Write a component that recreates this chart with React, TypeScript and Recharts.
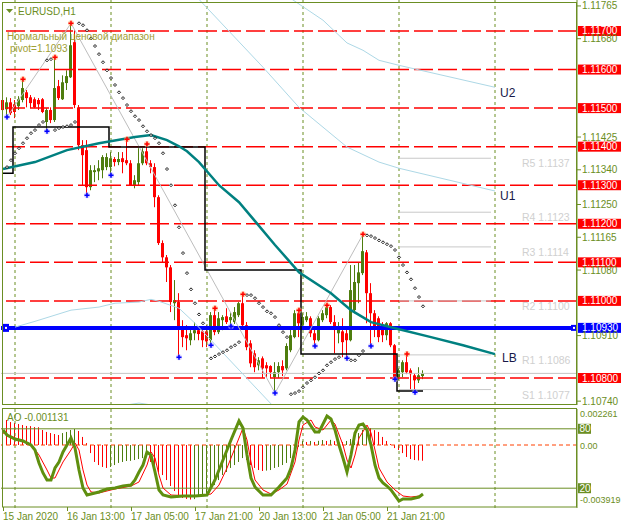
import React from "react";
import { ComposedChart, Bar, Line, XAxis, YAxis, ReferenceLine } from "recharts";

const FONT = "'Liberation Sans', Arial, sans-serif";
const OLIVE = "#6b8e23";
const BULL = "#4e7d0e";
const BEAR = "#ff0000";
const SLOTS = 144;
const PRICE_MIN = 1.1073;
const PRICE_MAX = 1.117804;
const AO_MIN = -0.00453;
const AO_MAX = 0.00259;

// H1 candles, 15 Jan 21:00 .. 22 Jan 06:00
const opens = [1.11521,1.11497,1.11515,1.1151,1.11505,1.11521,1.11541,1.11528,1.11523,1.11521,1.11523,1.11464,1.11495,1.11469,1.11557,1.11523,1.11565,1.1158,1.11671,1.11502,1.11404,1.11391,1.11295,1.11334,1.11336,1.11339,1.11347,1.11347,1.11368,1.1136,1.1137,1.11365,1.11357,1.113,1.11308,1.11357,1.11388,1.11357,1.11347,1.11269,1.1115,1.11113,1.11087,1.10994,1.10997,1.10929,1.10911,1.10898,1.10916,1.10924,1.10921,1.10921,1.10898,1.10963,1.10919,1.1095,1.1096,1.1095,1.10945,1.10963,1.10994,1.10937,1.1089,1.10864,1.10833,1.10851,1.10833,1.10831,1.10802,1.10815,1.10831,1.10825,1.10872,1.10906,1.10968,1.10937,1.1095,1.10955,1.10916,1.10898,1.1095,1.10963,1.10984,1.10945,1.10916,1.10921,1.10916,1.10898,1.10976,1.11046,1.11072,1.11126,1.1102,1.10968,1.10955,1.10932,1.10911,1.10942,1.10885,1.10802,1.10815,1.10841,1.1082,1.10807,1.10794,1.10805];
const highs = [1.11534,1.11528,1.11526,1.11521,1.11531,1.11575,1.11547,1.11534,1.11528,1.11526,1.11526,1.115,1.11502,1.11632,1.11573,1.11585,1.11598,1.1172,1.11702,1.11508,1.11417,1.11417,1.11352,1.11352,1.11365,1.11378,1.11383,1.11386,1.11373,1.11386,1.11386,1.11419,1.11365,1.11326,1.11396,1.11396,1.11407,1.11365,1.11357,1.11274,1.11157,1.11119,1.11093,1.11054,1.1102,1.1095,1.10937,1.10929,1.10945,1.10934,1.10934,1.10937,1.10971,1.10981,1.10971,1.10963,1.10981,1.10971,1.10984,1.10997,1.11017,1.10945,1.10898,1.10872,1.10854,1.10856,1.10841,1.10833,1.10841,1.10841,1.10846,1.1089,1.10929,1.10976,1.10976,1.10968,1.10971,1.1096,1.10929,1.1096,1.10976,1.10989,1.10989,1.10963,1.10945,1.10955,1.10932,1.11093,1.11093,1.111,1.11173,1.11132,1.11046,1.10976,1.1096,1.10945,1.10945,1.10945,1.10888,1.10825,1.10846,1.10862,1.10825,1.10812,1.10828,1.1082];
const lows = [1.11487,1.11477,1.11482,1.11474,1.11495,1.11515,1.11502,1.115,1.115,1.11495,1.11487,1.1144,1.11461,1.11464,1.11521,1.11521,1.11547,1.11578,1.115,1.11391,1.113,1.11274,1.11287,1.11308,1.11313,1.11318,1.11339,1.11326,1.11349,1.11352,1.11331,1.11352,1.11298,1.11292,1.113,1.11352,1.11352,1.11331,1.11243,1.11145,1.111,1.11049,1.10971,1.1095,1.10854,1.1088,1.10872,1.10885,1.10898,1.10898,1.1088,1.1088,1.10885,1.10911,1.10914,1.10924,1.1094,1.10934,1.1094,1.10958,1.10932,1.10872,1.10828,1.10815,1.1082,1.108,1.108,1.108,1.10761,1.108,1.10805,1.1082,1.10867,1.10903,1.10906,1.10929,1.10945,1.10906,1.10883,1.10895,1.10945,1.10955,1.1094,1.10864,1.1089,1.10854,1.10851,1.10895,1.10968,1.10994,1.11067,1.10942,1.10883,1.10906,1.10893,1.10893,1.10898,1.1088,1.10797,1.10794,1.10802,1.1081,1.10768,1.10763,1.10787,1.10797];
const closes = [1.11495,1.11515,1.11487,1.1149,1.11523,1.11552,1.11526,1.11513,1.11502,1.1151,1.1149,1.11495,1.11469,1.11552,1.11526,1.11567,1.11583,1.11663,1.11508,1.11404,1.11378,1.11295,1.11339,1.11339,1.11344,1.11373,1.11373,1.1137,1.1136,1.11368,1.1136,1.11357,1.113,1.11313,1.11357,1.11388,1.11357,1.11347,1.11269,1.1115,1.11113,1.11087,1.10997,1.11002,1.10929,1.10906,1.10903,1.10916,1.10924,1.10914,1.10898,1.10895,1.10963,1.10919,1.10955,1.10958,1.10945,1.10958,1.10971,1.10994,1.10937,1.1088,1.10838,1.10828,1.10846,1.10825,1.10825,1.10815,1.10815,1.10831,1.1082,1.10883,1.10911,1.10968,1.10942,1.10958,1.1096,1.10916,1.10898,1.10955,1.10968,1.10984,1.10945,1.10929,1.10929,1.10893,1.10898,1.11028,1.11049,1.11074,1.11129,1.1102,1.10968,1.10932,1.10906,1.10911,1.10942,1.10885,1.10802,1.1082,1.10841,1.10815,1.1081,1.10794,1.10807,1.10812];

// parabolic SAR (null = no dot)
const sar = [null,1.11347,1.11365,1.11383,1.11396,1.11409,1.11422,1.11435,1.11443,1.11456,1.11464,1.11624,1.11627,1.11443,1.11448,1.11451,1.11453,1.11456,1.11464,1.1172,1.11715,1.11702,1.11681,1.11661,1.1164,1.11619,1.11598,1.11578,1.1156,1.11541,1.11526,1.11508,1.11492,1.11479,1.11469,1.11453,1.1144,1.1143,1.11422,1.11409,1.11383,1.11342,1.113,1.11248,1.11191,1.11124,1.11072,1.1103,1.10994,1.10965,1.10942,null,1.10851,1.10856,1.10862,1.10867,1.10872,1.1088,1.10885,1.10893,null,1.11015,1.11015,1.11007,1.10994,1.10984,1.10973,1.10968,1.10958,1.10937,1.10919,1.10906,1.10758,1.10761,1.10766,1.10776,1.10787,1.10794,1.10802,1.10812,1.1082,1.10833,1.10841,1.10849,1.10854,null,null,1.10846,1.10846,1.10859,1.1087,1.1117,1.11168,1.11163,1.11157,1.11152,1.11147,1.11142,1.11132,1.11113,1.11093,1.11074,1.11056,1.11033,1.1101,1.10986];

const fracUpIdx = [5, 13, 17, 31, 36, 53, 60, 74, 81, 90, 101];
const fracDnIdx = [1, 11, 21, 27, 44, 52, 57, 68, 78, 86, 92, 98, 103];

const tealIdx = [0, 8, 16, 24, 33, 37, 41, 44, 46, 49, 54, 59, 63, 68, 72, 74, 82, 87, 92, 98, 107, 115, 123];
const tealVal = [1.11342,1.1136,1.11391,1.11409,1.11425,1.1143,1.11417,1.11401,1.11388,1.1136,1.113,1.11256,1.11207,1.11145,1.11098,1.11074,1.1102,1.10976,1.10945,1.10929,1.10906,1.10885,1.10862];

const u1Idx = [48, 65, 74, 86, 94, 99, 123];
const u1Val = [1.11793, 1.11606, 1.11502, 1.11399, 1.1136, 1.11344, 1.11285];
const u2Idx = [70, 80, 86, 90, 94, 99, 123];
const u2Val = [1.11798, 1.11728, 1.11669, 1.1165, 1.11624, 1.11611, 1.11554];
const lowIdx = [3, 8, 17, 24, 28, 34, 37, 39, 44, 48, 52, 68];
const lowVal = [1.10932,1.10947,1.10976,1.10984,1.10994,1.10997,1.11004,1.10999,1.10981,1.10942,1.10898,1.10722];
const arcIdx = [27, 34, 41];
const arcVal = [1.10724, 1.10735, 1.10724];

const zzIdx = [1, 17, 68, 90];
const zzVal = [1.11477, 1.1172, 1.10761, 1.11173];

const stepIdx = [0, 2, 3, 26, 27, 50, 51, 74, 75, 98, 99, 105];
const stepVal = [1.11331,1.11331,1.11451,1.11451,1.11399,1.11399,1.1108,1.1108,1.10862,1.10862,1.10766,1.10766];

const redLevels = [1.117, 1.116, 1.115, 1.114, 1.113, 1.112, 1.111, 1.11, 1.108];
const pivot = 1.1093;
const bid = 1.10812;
const pivotNames = ["R5", "R4", "R3", "R2", "R1", "S1"];
const pivotLevels = [1.1137, 1.1123, 1.1114, 1.11, 1.1086, 1.1077];
const priceTicks = [1.11765, 1.1168, 1.11425, 1.1134, 1.1125, 1.11165, 1.1108, 1.1091, 1.1074];
const separators = [3, 27, 51, 75, 99, 123];

const timeIdx = [0, 16, 32, 48, 64, 80, 96];
const timeLabels = ["15 Jan 2020", "16 Jan 13:00", "17 Jan 05:00", "17 Jan 21:00", "20 Jan 13:00", "21 Jan 05:00", "21 Jan 21:00"];

// Awesome Oscillator
const ao = [0.00226,0.0018,0.00165,0.00158,0.00151,0.00144,0.00137,0.00136,0.00129,0.00128,0.00108,0.00094,0.00086,0.00079,0.00072,0.00086,0.00094,0.00108,0.00115,0.00101,0.00058,0.00014,-0.00058,-0.00122,-0.00144,-0.00158,-0.00165,-0.00158,-0.00144,-0.00129,-0.00122,-0.00115,-0.00114,-0.00108,-0.00101,-0.00094,-0.00086,-0.00122,-0.00144,-0.00194,-0.00216,-0.00252,-0.00295,-0.00331,-0.0036,-0.00381,-0.00388,-0.00392,-0.00389,-0.00374,-0.0036,-0.00345,-0.00324,-0.00288,-0.00252,-0.00216,-0.00194,-0.00165,-0.00144,-0.00122,-0.00094,-0.00108,-0.00144,-0.00165,-0.0018,-0.00187,-0.00184,-0.0018,-0.00165,-0.00158,-0.00144,-0.00129,-0.00094,-0.0005,-0.00014,0.00029,0.00022,0.00029,0.00022,0.0003,0.00036,0.00029,0.00037,0.00028,0.00032,0.00021,0.00029,0.00043,0.00058,0.00086,0.00108,0.00129,0.00122,0.00107,0.00094,0.00058,0.00029,0.00007,-0.00022,-0.00036,-0.00058,-0.00086,-0.00101,-0.00108,-0.00111,-0.00113];

// stochastic %K / %D
const kIdx = [0,1,3,5,7,8,9,10,11,12,13,14,15,16,17,18,19,20,21,22,24,26,28,30,32,33,34,35,36,37,38,39,40,42,45,48,51,53,55,57,59,60,61,62,63,65,67,69,71,72,73,74,75,76,78,79,80,81,82,83,84,85,86,87,88,89,90,91,92,93,94,95,96,97,99,100,102,104,105];
const kVal = [78.8,73.7,69.7,67.7,63.6,58.6,45.5,35.4,28.3,28.3,40.4,46.5,56.6,63.6,70.7,60.6,38.4,20.2,13.1,14.1,16.2,19.2,20.2,22.2,23.2,28.3,36.4,43.4,56.6,53.5,36.4,18.2,13.1,11.1,12.1,12.1,13.1,28.3,48.5,68.7,87.9,80.8,53.5,30.3,21.2,13.1,13.1,21.2,30.3,40.4,58.6,86.9,91.9,88.9,76.8,76.8,84.8,92.9,89.9,78.8,63.6,50.5,36.4,53.5,75.8,83.8,84.8,78.8,63.6,43.4,30.3,25.3,22.2,18.2,7.1,9.1,9.1,11.1,14.1];
const dIdx = [0,2,4,7,9,11,12,13,14,15,17,18,19,20,21,22,24,28,32,34,36,37,38,39,40,42,48,52,54,56,58,60,61,62,63,65,67,69,71,73,74,75,77,78,80,82,83,85,86,87,88,89,91,92,93,94,96,98,100,102,104,105];
const dVal = [75.8,72.7,68.7,64.6,53.5,38.4,30.3,30.3,38.4,46.5,58.6,65.7,58.6,38.4,23.2,16.2,15.2,19.2,22.2,26.3,43.4,56.6,50.5,33.3,20.2,13.1,12.1,14.1,23.2,40.4,60.6,80.8,68.7,46.5,28.3,18.2,14.1,18.2,24.2,46.5,68.7,83.8,88.9,81.8,78.8,88.9,84.8,63.6,48.5,40.4,53.5,70.7,83.8,75.8,58.6,40.4,26.3,18.2,12.1,11.1,12.1,13.1];

const rows: any[] = [];
for (let i = 0; i < SLOTS; i++) {
  const r: any = { i };
  if (i < opens.length) {
    r.o = opens[i];
    r.h = highs[i];
    r.l = lows[i];
    r.c = closes[i];
    r.range = [lows[i], highs[i]];
    r.sar = sar[i];
    r.ao = ao[i];
    r.aoCol = i > 0 && ao[i] > ao[i - 1] ? BULL : BEAR;
  }
  rows.push(r);
}
const put = (key: string, idx: number[], vals: number[]) =>
  idx.forEach((ix, k) => {
    rows[ix][key] = vals[k];
  });
put("teal", tealIdx, tealVal);
put("u1", u1Idx, u1Val);
put("u2", u2Idx, u2Val);
put("lowch", lowIdx, lowVal);
put("arc", arcIdx, arcVal);
put("zz", zzIdx, zzVal);
put("blk", stepIdx, stepVal);
put("sk", kIdx, kVal);
put("sd", dIdx, dVal);
fracUpIdx.forEach((ix) => (rows[ix].fu = highs[ix]));
fracDnIdx.forEach((ix) => (rows[ix].fd = lows[ix]));

const Candle = (p: any) => {
  const { x, y, width, height, payload } = p;
  if (!payload || payload.o == null) return <g />;
  const { o, h, l, c } = payload;
  const top = Math.min(y, y + height);
  const bot = Math.max(y, y + height);
  const span = h - l || 1e-9;
  const py = (v: number) => top + ((bot - top) * (h - v)) / span;
  const cx = Math.round(x + width / 2);
  const col = c >= o ? BULL : BEAR;
  const b1 = py(Math.max(o, c));
  const b2 = py(Math.min(o, c));
  return (
    <g>
      <line x1={cx - 0.5} x2={cx - 0.5} y1={top} y2={bot} stroke={col} strokeWidth={1} />
      <rect x={cx - 2} y={b1} width={3} height={Math.max(1, b2 - b1)} fill={col} />
    </g>
  );
};

const AoBar = (p: any) => {
  const { x, y, width, height, payload } = p;
  if (!payload || payload.ao == null) return <g />;
  const cx = Math.round(x + width / 2) - 0.5;
  return <line x1={cx} x2={cx} y1={y} y2={y + height} stroke={payload.aoCol} strokeWidth={1} />;
};

const sarDot = (p: any) => {
  const { cx, cy, index, payload } = p;
  if (!payload || payload.sar == null || cy == null || isNaN(cy)) return <g key={index} />;
  return (
    <path
      key={index}
      d={`M${cx},${cy - 1.5}L${cx + 1.5},${cy}L${cx},${cy + 1.5}L${cx - 1.5},${cy}Z`}
      fill="#fff"
      stroke="#000"
      strokeWidth={0.9}
    />
  );
};

const fracDot = (key: string, halo: string, col: string) => (p: any) => {
  const { cx, cy, index, payload } = p;
  if (!payload || payload[key] == null || cy == null || isNaN(cy)) return <g key={index} />;
  return (
    <g key={index}>
      <circle cx={cx} cy={cy} r={3} fill={halo} opacity={0.55} />
      <path d={`M${cx - 2.5},${cy}H${cx + 2.5}M${cx},${cy - 2.5}V${cy + 2.5}`} stroke={col} strokeWidth={1.5} />
    </g>
  );
};

const axisBox = (text: string, bg: string) => (p: any) => {
  const vb = p.viewBox;
  const x = vb.x + vb.width + 1;
  return (
    <g>
      <rect x={x} y={vb.y - 5} width={43} height={10} fill={bg} />
      <text x={x + 4} y={vb.y + 3.5} fill="#fff" fontSize={10} fontFamily={FONT}>
        {text}
      </text>
    </g>
  );
};

const pivotLabel = (p: any) => {
  const { x, y, width } = p.viewBox;
  const r = x + width;
  return (
    <g>
      <rect x={x + 1} y={y - 4} width={7} height={8} fill="#0000ff" />
      <rect x={x + 4} y={y - 1} width={2} height={2} fill="#fff" />
      <rect x={r - 6} y={y - 3} width={6} height={6} fill="#0000ff" />
      <rect x={r - 4} y={y - 1} width={2} height={2} fill="#fff" />
      <rect x={r + 1} y={y - 5} width={43} height={10} fill="#0000ff" />
      <text x={r + 5} y={y + 3.5} fill="#fff" fontSize={10} fontFamily={FONT}>
        {pivot.toFixed(5)}
      </text>
    </g>
  );
};

const pivotText = (text: string) => (p: any) => {
  const vb = p.viewBox;
  return (
    <text x={vb.x + vb.width + 31} y={vb.y + 9} fill="#d0d0d0" fontSize={10.5} fontFamily={FONT}>
      {text}
    </text>
  );
};

const sideText = (text: string) => (p: any) => {
  const vb = p.viewBox;
  return (
    <text x={vb.x + vb.width + 3} y={vb.y + 3.5} fill={OLIVE} fontSize={9} fontFamily={FONT}>
      {text}
    </text>
  );
};

const levelBox = (text: string) => (p: any) => {
  const vb = p.viewBox;
  const x = vb.x + vb.width + 1;
  return (
    <g>
      <rect x={x} y={vb.y - 5} width={13} height={10} fill={OLIVE} />
      <text x={x + 1.5} y={vb.y + 3.5} fill="#fff" fontSize={10} fontFamily={FONT}>
        {text}
      </text>
    </g>
  );
};

const TimeTick = (p: any) => {
  const k = timeIdx.indexOf(p.payload.value);
  if (k < 0) return <g />;
  return (
    <g>
      <line x1={p.x + 0.5} x2={p.x + 0.5} y1={p.y - 1} y2={p.y + 3} stroke={OLIVE} />
      <text x={p.x} y={p.y + 12} fill={OLIVE} fontSize={10} fontFamily={FONT}>
        {timeLabels[k]}
      </text>
    </g>
  );
};

export default function App() {
  return (
    <div style={{ position: "fixed", left: 0, top: 0, width: 622, height: 528, background: "#fff", overflow: "hidden" }}>
      <div style={{ position: "absolute", left: 0, top: 0 }}>
        <ComposedChart width={622} height={410} data={rows} margin={{ top: 0, right: 0, bottom: 5, left: 1 }} barCategoryGap={0} barGap={0}>
          <XAxis dataKey="i" hide />
          <YAxis
            orientation="right"
            width={45}
            domain={[PRICE_MIN, PRICE_MAX]}
            allowDataOverflow
            ticks={priceTicks}
            interval={0}
            tickSize={4}
            tickMargin={1}
            axisLine={{ stroke: OLIVE }}
            tickLine={{ stroke: OLIVE }}
            tick={{ fill: OLIVE, fontSize: 10, fontFamily: FONT }}
            tickFormatter={(v: number) => v.toFixed(5)}
          />
          {separators.map((s) => (
            <ReferenceLine key={"sep" + s} x={s} stroke={OLIVE} strokeDasharray="3 3" />
          ))}
          <ReferenceLine y={bid} stroke="#c4c4c4" />
          {redLevels.map((l) => (
            <ReferenceLine key={"lv" + l} y={l} stroke="#ff0000" strokeWidth={1.5} strokeDasharray="19 5" label={axisBox(l.toFixed(5), "#ff0000")} />
          ))}
          <ReferenceLine y={pivot} stroke="#0000ff" strokeWidth={4} label={pivotLabel} />
          {pivotLevels.map((v, k) => (
            <ReferenceLine
              key={"pv" + k}
              segment={[{ x: 99, y: v }, { x: 122, y: v }]}
              stroke="#c8c8c8"
              label={pivotText(`${pivotNames[k]} ${v.toFixed(4)}`)}
            />
          ))}
          <Line dataKey="u2" stroke="#add8e6" strokeWidth={1} dot={false} connectNulls isAnimationActive={false} />
          <Line dataKey="u1" stroke="#add8e6" strokeWidth={1} dot={false} connectNulls isAnimationActive={false} />
          <Line dataKey="lowch" stroke="#add8e6" strokeWidth={1} dot={false} connectNulls isAnimationActive={false} />
          <Line dataKey="arc" stroke="#add8e6" strokeWidth={1} dot={false} connectNulls isAnimationActive={false} />
          <Line dataKey="zz" stroke="#bdbdbd" strokeWidth={1} dot={false} connectNulls isAnimationActive={false} />
          <Line dataKey="blk" type="step" stroke="#000" strokeWidth={1.5} dot={false} connectNulls isAnimationActive={false} />
          <Line dataKey="teal" stroke="#008080" strokeWidth={2.5} dot={false} connectNulls isAnimationActive={false} />
          <Bar dataKey="range" shape={(p: any) => <Candle {...p} />} isAnimationActive={false} />
          <Line dataKey="sar" stroke="none" dot={sarDot} activeDot={false} isAnimationActive={false} />
          <Line dataKey="fu" stroke="none" dot={fracDot("fu", "#ffb070", "#ff0000")} activeDot={false} isAnimationActive={false} />
          <Line dataKey="fd" stroke="none" dot={fracDot("fd", "#b8b0ff", "#0000ff")} activeDot={false} isAnimationActive={false} />
        </ComposedChart>
      </div>
      <div style={{ position: "absolute", left: 0, top: 406 }}>
        <ComposedChart width={622} height={122} data={rows} margin={{ top: 3, right: 0, bottom: 0, left: 1 }} barCategoryGap={0} barGap={0}>
          <XAxis dataKey="i" interval={0} tick={TimeTick} tickLine={false} axisLine={false} tickSize={0} tickMargin={0} height={20} />
          <YAxis yAxisId="st" domain={[0, 100]} hide allowDataOverflow />
          <YAxis
            yAxisId="ao"
            orientation="right"
            width={45}
            domain={[AO_MIN, AO_MAX]}
            allowDataOverflow
            tick={false}
            tickLine={false}
            axisLine={{ stroke: OLIVE }}
          />
          {separators.map((s) => (
            <ReferenceLine key={"sep2" + s} yAxisId="ao" x={s} stroke={OLIVE} strokeDasharray="3 3" />
          ))}
          <ReferenceLine yAxisId="st" y={80} stroke={OLIVE} label={levelBox("80")} />
          <ReferenceLine yAxisId="st" y={20} stroke={OLIVE} label={levelBox("20")} />
          <ReferenceLine yAxisId="ao" y={0} stroke="#ff4000" strokeDasharray="4 3" label={sideText("0.00")} />
          <ReferenceLine yAxisId="ao" y={0.002261} stroke="none" label={sideText("0.002261")} />
          <ReferenceLine yAxisId="ao" y={-0.003919} stroke="none" label={sideText("-0.003919")} />
          <Bar yAxisId="ao" dataKey="ao" shape={(p: any) => <AoBar {...p} />} isAnimationActive={false} />
          <Line yAxisId="st" dataKey="sd" stroke="#ff0000" strokeWidth={1} dot={false} connectNulls isAnimationActive={false} />
          <Line yAxisId="st" dataKey="sk" stroke="#5f8f0f" strokeWidth={3} dot={false} connectNulls isAnimationActive={false} />
        </ComposedChart>
      </div>
      <svg width={622} height={528} style={{ position: "absolute", left: 0, top: 0, pointerEvents: "none" }}>
        <rect x={2.5} y={2.5} width={574} height={402} fill="none" stroke={OLIVE} />
        <rect x={2.5} y={408.5} width={574} height={98.5} fill="none" stroke={OLIVE} />
        <path d="M6 9H13L9.5 13Z" fill={OLIVE} />
        <g fontFamily={FONT} fontSize={10}>
          <text x={18} y={15} fill={OLIVE}>EURUSD,H1</text>
          <text x={7} y={40} fill="#a0a034">Нормальный ценовой диапазон</text>
          <text x={10} y={52} fill="#a0a034">pivot=1.1093</text>
          <text x={7} y={421} fill={OLIVE}>AO -0.001131</text>
        </g>
        <g fontFamily={FONT} fontSize={12} fill="#181848">
          <text x={500} y={97}>U2</text>
          <text x={500} y={200}>U1</text>
          <text x={502} y={362}>LB</text>
        </g>
      </svg>
    </div>
  );
}
